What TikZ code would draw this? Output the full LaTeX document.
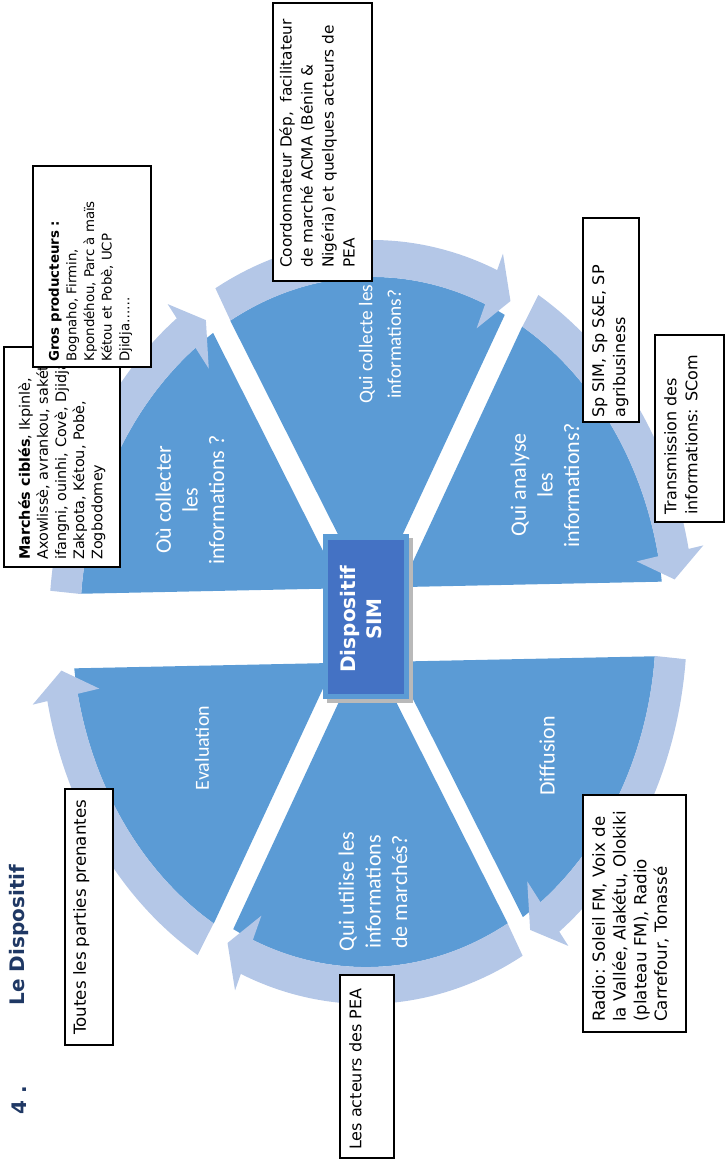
\documentclass[tikz,border=0pt]{standalone}
\usepackage{fontspec}
\setmainfont{DejaVu Sans}
\newfontfamily\wedgefont{Carlito}
\definecolor{wedgeblue}{RGB}{91,155,213}
\definecolor{bandblue}{RGB}{180,199,231}
\definecolor{centerblue}{RGB}{68,114,196}
\definecolor{titleblue}{RGB}{31,56,100}
\newcommand{\Rw}{292}
\newcommand{\Rb}{323}
\newcommand{\Rhi}{270}
\newcommand{\Rho}{338}
\newcommand{\Rtip}{305}
% arrow band from angle #1 (start) clockwise to tip angle #2
\newcommand{\segarrow}[2]{%
  \pgfmathsetmacro{\hb}{#2+4.2}%
  \fill[bandblue] (#1:\Rw pt) arc[start angle=#1, end angle=\hb, radius=\Rw pt]
    -- (\hb:\Rhi pt) -- (#2:\Rtip pt) -- (\hb:\Rho pt) -- (\hb:\Rb pt)
    arc[start angle=\hb, end angle=#1, radius=\Rb pt] -- cycle;}
\newcommand{\halfabove}[2]{\clip[rotate=#1] (-1000,#2) rectangle (1000,1000);}
\newcommand{\halfbelow}[2]{\clip[rotate=#1] (-1000,-1000) rectangle (1000,-#2);}
\newcommand{\segdisk}{\fill[wedgeblue] (0,0) circle[radius=\Rw pt];}
\begin{document}
\begin{tikzpicture}[x=1pt,y=1pt,scale=0.75,
  wlabel/.style={rotate=90, text=white, font=\wedgefont\fontsize{15}{21.5}\selectfont, align=center, inner sep=0pt},
  wlabelbig/.style={wlabel, font=\wedgefont\fontsize{16.5}{20}\selectfont},
  boxline/.style={draw=black, line width=0.8pt, fill=white},
  boxtext/.style={rotate=90, anchor=north west, align=left, inner sep=0pt, font=\fontsize{12}{15.75}\selectfont},
  smalltext/.style={boxtext, font=\fontsize{10}{13.2}\selectfont},
  titletext/.style={rotate=90, text=titleblue, inner sep=0pt, font=\bfseries\fontsize{15}{18}\selectfont}
]
\useasboundingbox (0,0) rectangle (725,-1159);

% --- Qui collecte
\begin{scope}[shift={(372,-625)}, yscale=1.192]
  \begin{scope}\halfbelow{121}{10}\halfabove{61}{10}\segdisk\end{scope}
  \segarrow{119}{63}
\end{scope}
% --- Ou collecter
\begin{scope}[shift={(372,-625)}, yscale=1.192]
  \begin{scope}\halfabove{121}{10}\halfabove{1}{31.3}\segdisk\end{scope}
  \segarrow{174.9}{123}
\end{scope}
% --- Evaluation
\begin{scope}[shift={(364,-625)}, yscale=1.192]
  \begin{scope}\halfbelow{1}{31.3}\halfabove{61}{10}\segdisk\end{scope}
  \segarrow{239}{187.2}
\end{scope}
% --- Qui utilise
\begin{scope}[shift={(366,-619)}, yscale=1.192]
  \begin{scope}\halfbelow{61}{10}\halfabove{121}{10}\segdisk\end{scope}
  \segarrow{299}{243}
\end{scope}
% --- Diffusion
\begin{scope}[shift={(364,-625)}, yscale=1.192]
  \begin{scope}\halfbelow{121}{10}\halfbelow{1}{31.3}\segdisk\end{scope}
  \segarrow{354.9}{303}
\end{scope}
% --- Qui analyse
\begin{scope}[shift={(372,-625)}, yscale=1.192]
  \begin{scope}\halfabove{1}{31.3}\halfbelow{61}{10}\segdisk\end{scope}
  \segarrow{59}{7.2}
\end{scope}

% wedge labels
\node[wlabel, font=\wedgefont\fontsize{14.5}{21.5}\selectfont] (lcollecte) at (380,-344) {Qui collecte les\\informations?};
\node[wlabelbig] (lou) at (190,-500) {Où collecter\\les\\informations ?};
\node[wlabelbig] (lanalyse) at (545,-485) {Qui analyse\\les\\informations?};
\node[wlabel] (leval) at (202,-748) {Evaluation};
\node[wlabelbig] (ldiff) at (547,-756) {Diffusion};
\node[wlabelbig] (lutilise) at (373,-892) {Qui utilise les\\informations\\de marchés?};

% centre
\fill[gray!55] (327,-538) rectangle (413,-703);
\fill[wedgeblue] (323,-534) rectangle (409,-699);
\fill[centerblue] (328,-540) rectangle (404,-694);
\node[rotate=90, text=white, align=center, inner sep=0pt, font=\bfseries\fontsize{15}{19.5}\selectfont] (centre) at (361,-619) {Dispositif\\SIM};

% title
\node[titletext] (num) at (19,-1100) {4 .};
\node[titletext] (title) at (19,-935) {Le Dispositif};

% boxes
\draw[boxline] (273,-3) rectangle (372,-281);
\node[boxtext, font=\fontsize{11.5}{15.75}\selectfont] (bcoord) at (279,-268) {Coordonnateur Dép,\ \ facilitateur\\de marché ACMA (Bénin \&\\Nigéria) et quelques acteurs de\\PEA};

\draw[boxline] (4,-347) rectangle (120,-567);
\node[smalltext, font=\fontsize{10.8}{13.6}\selectfont] (bmarches) at (18,-560) {\textbf{Marchés ciblés}, Ikpinlè,\\Axowlissè, avrankou, sakété,\\ifangni, ouinhi, Covè, Djidja,\\Zakpota, Kétou, Pobè,\\Zogbodomey};

\draw[boxline] (33,-166) rectangle (151,-367);
\node[smalltext] (bgros) at (48.5,-362) {\textbf{Gros producteurs :}\\Bognaho, Firmin,\\Kpondéhou, Parc à maïs\\Kétou et Pobè, UCP\\Djidja……};

\draw[boxline] (583,-218) rectangle (639,-422);
\node[boxtext] (bsp) at (592,-418) {Sp SIM, Sp S\&E, SP\\agribusiness};

\draw[boxline] (655,-335) rectangle (724,-522);
\node[boxtext] (btrans) at (664,-515) {Transmission des\\informations: SCom};

\draw[boxline] (65,-789) rectangle (113,-1045);
\node[boxtext, font=\fontsize{12.5}{15.75}\selectfont] (btoutes) at (73,-1035) {Toutes les parties prenantes};

\draw[boxline] (340,-975) rectangle (394,-1158);
\node[boxtext] (bacteurs) at (349,-1150) {Les acteurs des PEA};

\draw[boxline] (583,-795) rectangle (686,-1032);
\node[boxtext, font=\fontsize{12.5}{15.5}\selectfont] (bradio) at (592,-1022) {Radio: Soleil FM, Voix de\\la Vallée, Alakétu, Olokiki\\(plateau FM), Radio\\Carrefour, Tonassé};
\end{tikzpicture}
\end{document}
